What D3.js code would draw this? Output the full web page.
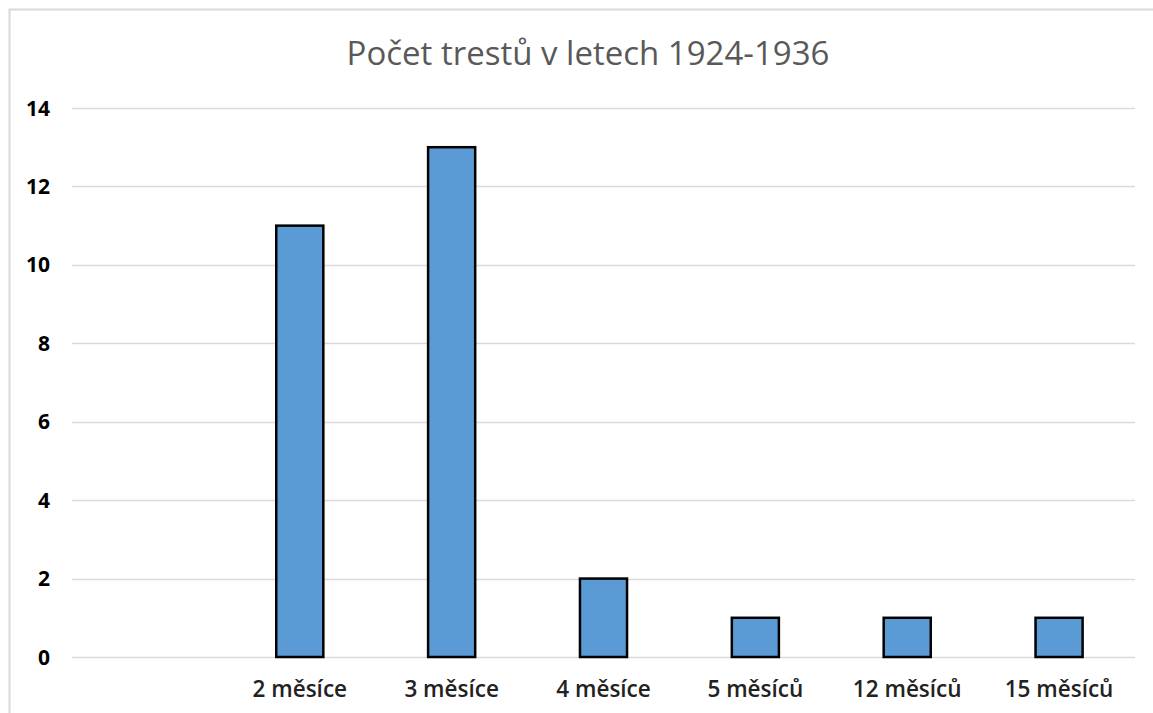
<!DOCTYPE html>
<html>
<head>
<meta charset="utf-8">
<script src="https://cdn.jsdelivr.net/npm/d3@7"></script>
<style>
  body { margin: 0; background: #fff; }
  text { font-family: "Open Sans", sans-serif; }
</style>
</head>
<body>
<script>
var w = 1153;
var h = 713;

// data
var title = "Počet trestů v letech 1924-1936";
var categories = ["", "2 měsíce", "3 měsíce", "4 měsíce", "5 měsíců", "12 měsíců", "15 měsíců"];
var counts = [null, 11, 13, 2, 1, 1, 1];
var yTicks = [0, 2, 4, 6, 8, 10, 12, 14];

var margin = { left: 72, right: 18, top: 108, bottom: 56 };

var svg = d3.select("body")
  .append("svg")
  .attr("width", w)
  .attr("height", h);

// chart border
svg.append("rect")
  .attr("x", 9.5)
  .attr("y", 9.5)
  .attr("width", w)
  .attr("height", h)
  .attr("fill", "#fff")
  .attr("stroke", "#d9d9d9")
  .attr("stroke-width", 2);

var x = d3.scaleBand()
  .domain(categories.map(function(d, i) { return i; }))
  .range([margin.left, w - margin.right])
  .paddingInner(0.69)
  .paddingOuter(0.345);

var y = d3.scaleLinear()
  .domain([0, 14])
  .range([h - margin.bottom, margin.top]);

// gridlines
svg.append("g")
  .selectAll("line")
  .data(yTicks)
  .enter()
  .append("line")
  .attr("x1", margin.left)
  .attr("x2", w - margin.right)
  .attr("y1", function(d) { return Math.round(y(d)) + 0.5; })
  .attr("y2", function(d) { return Math.round(y(d)) + 0.5; })
  .attr("stroke", "#d9d9d9")
  .attr("stroke-width", 1.5);

// y tick labels
svg.append("g")
  .selectAll("text")
  .data(yTicks)
  .enter()
  .append("text")
  .attr("x", 50)
  .attr("y", function(d) { return y(d); })
  .attr("dy", "0.36em")
  .attr("text-anchor", "end")
  .attr("font-size", 21)
  .attr("font-weight", "bold")
  .attr("fill", "#000")
  .text(function(d) { return d; });

// bars
var bars = categories.map(function(c, i) { return { i: i, v: counts[i] }; })
  .filter(function(d) { return d.v !== null; });

svg.append("g")
  .selectAll("rect")
  .data(bars)
  .enter()
  .append("rect")
  .attr("x", function(d) { return x(d.i); })
  .attr("y", function(d) { return y(d.v); })
  .attr("width", x.bandwidth())
  .attr("height", function(d) { return y(0) - y(d.v); })
  .attr("fill", "#5b9bd5")
  .attr("stroke", "#000")
  .attr("stroke-width", 2.5);

// x labels
svg.append("g")
  .selectAll("text")
  .data(categories)
  .enter()
  .append("text")
  .attr("x", function(d, i) { return x(i) + x.bandwidth() / 2; })
  .attr("y", 697)
  .attr("text-anchor", "middle")
  .attr("font-size", 22.5)
  .attr("font-weight", 600)
  .attr("fill", "#222")
  .text(function(d) { return d; });

// title
svg.append("text")
  .attr("x", 588)
  .attr("y", 65)
  .attr("text-anchor", "middle")
  .attr("font-size", 33)
  .attr("fill", "#595959")
  .text(title);
</script>
</body>
</html>
